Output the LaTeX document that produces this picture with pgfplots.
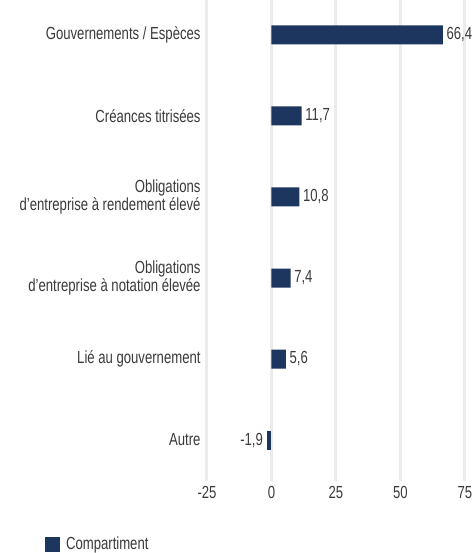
\documentclass[border=0pt]{standalone}
\usepackage{fontspec}
\setmainfont{Liberation Sans}[FakeStretch=0.75]
\usepackage{pgfplots}
\pgfplotsset{compat=1.18}
\definecolor{navy}{HTML}{1D3660}
\definecolor{gridc}{HTML}{EBEBEB}
\definecolor{txt}{HTML}{3A3A3A}

\begin{document}
\begin{tikzpicture}[font=\fontsize{17.5}{13.5}\selectfont]
\begin{axis}[
    name=ax,
    scale only axis,
    width=258pt, height=481pt,
    xbar, bar width=19pt, bar shift=0pt,
    xmin=-25, xmax=75,
    ymin=-0.506, ymax=5.432,
    axis line style={draw=none},
    tick style={draw=none},
    xtick={-25,0,25,50,75},
    xticklabels={-25,0,25,50,75},
    ytick={0,1,2,3,4,5},
    yticklabels={Autre, Lié au gouvernement,
        {Obligations\\d'entreprise à notation élevée},
        {Obligations\\d'entreprise à rendement élevé},
        Créances titrisées, Gouvernements / Espèces},
    yticklabel style={align=right, text=txt, inner sep=2pt},
    xticklabel style={text=txt, yshift=-2pt},
    xmajorgrids,
    major grid style={gridc, line width=3pt},
    nodes near coords,
    point meta=explicit symbolic,
    nodes near coords style={text=txt, inner sep=3.5pt},
    legend style={draw=none, fill=none, at={(-0.64,-0.131)}, anchor=west,
        font=\fontsize{17.5}{13.5}\selectfont, text=txt,
        /tikz/every even column/.append style={column sep=0pt}},
    legend image code/.code={\fill[navy] (0pt,-7.5pt) rectangle (15pt,7.5pt);},
    legend cell align=left,
]
% positive bars
\addplot[fill=navy, draw=none, nodes near coords style={anchor=west}]
    table[x=v, y=y, meta=lab] {
    y v lab
    1 5.6 5,6
    2 7.4 7,4
    3 10.8 10,8
    4 11.7 11,7
    5 66.4 66,4
};
\addlegendentry{\hspace{4pt}Compartiment}
% negative bar
\addplot[fill=navy, draw=none, forget plot, nodes near coords style={anchor=east}]
    table[x=v, y=y, meta=lab] {
    y v lab
    0 -1.9 -1,9
};
\end{axis}
\pgfresetboundingbox
\path[use as bounding box] (ax.north west) ++(-207pt,0) rectangle ++(475pt,-553pt);
\end{tikzpicture}
\end{document}
